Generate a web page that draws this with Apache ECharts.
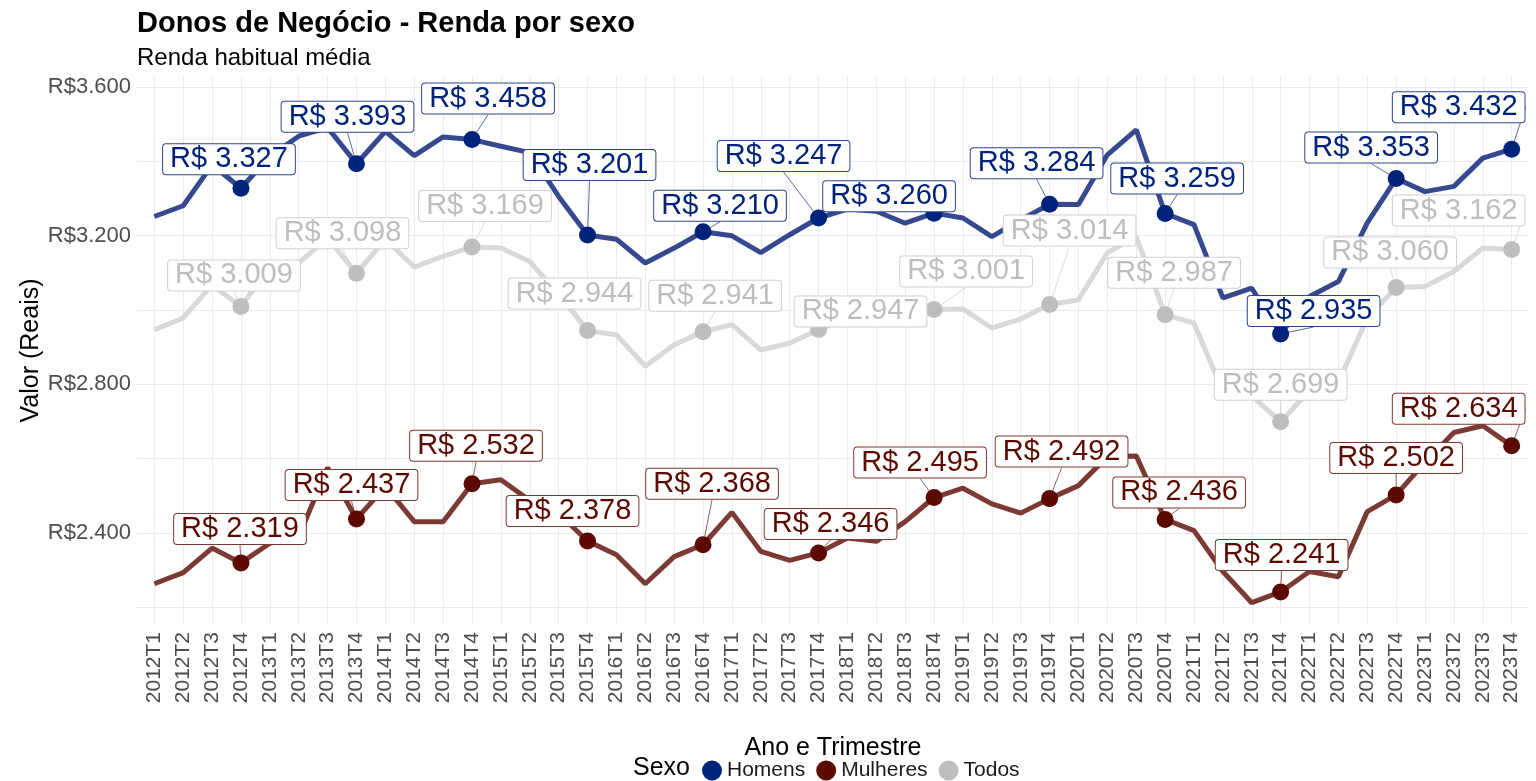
<!DOCTYPE html>
<html>
<head>
<meta charset="utf-8">
<title>Donos de Negócio - Renda por sexo</title>
<script src="https://cdn.jsdelivr.net/npm/echarts@6/dist/echarts.min.js"></script>
<style>
  html, body { margin: 0; padding: 0; background: #fff; }
  #chart { width: 1536px; height: 781px; }
</style>
</head>
<body>
<div id="chart"></div>
<script>
// trimestres 2012T1 .. 2023T4
const trimestres = [];
for (let a = 2012; a <= 2023; a++) {
  for (let t = 1; t <= 4; t++) trimestres.push(a + 'T' + t);
}

const homens = [3251, 3280, 3390, 3327, 3413, 3467, 3490, 3393, 3480, 3415, 3465, 3458,
  3440, 3423, 3305, 3201, 3190, 3126, 3166, 3210, 3199, 3154, 3202, 3247,
  3271, 3265, 3233, 3260, 3247, 3197, 3242, 3284, 3283, 3417, 3484, 3259,
  3229, 3032, 3058, 2935, 3036, 3076, 3234, 3353, 3318, 3332, 3408, 3432];

const mulheres = [2263, 2293, 2359, 2319, 2372, 2390, 2575, 2437, 2525, 2430, 2430, 2532,
  2543, 2487, 2452, 2378, 2341, 2263, 2336, 2368, 2455, 2350, 2326, 2346,
  2386, 2377, 2430, 2495, 2520, 2478, 2453, 2492, 2527, 2605, 2607, 2436,
  2406, 2296, 2212, 2241, 2296, 2282, 2457, 2502, 2590, 2670, 2688, 2634];

const todos = [2946, 2978, 3067, 3009, 3116, 3126, 3193, 3098, 3190, 3115, 3144, 3169,
  3166, 3130, 3042, 2944, 2933, 2848, 2906, 2941, 2960, 2892, 2910, 2947,
  2975, 2985, 2990, 3001, 3002, 2951, 2975, 3014, 3027, 3153, 3197, 2987,
  2964, 2781, 2768, 2699, 2783, 2805, 2978, 3060, 3063, 3103, 3166, 3162];

const yTicks = [2200, 2400, 2600, 2800, 3000, 3200, 3400, 3600];
const yLabels = [2400, 2800, 3200, 3600];

// deslocamento dos rótulos (px) em relação ao ponto, um por T4 (estilo ggrepel)
const shiftHomens = [[-12, -29], [-9, -47], [16, -41], [2, -70], [17, -26], [-35, -62],
  [-45, -17], [-13, -41], [12, -35], [33, -23], [-25, -31], [-53, -42]];
const shiftMulheres = [[-1, -34], [-5, -34], [4, -38], [-15, -30], [9, -61], [12, -29],
  [-14, -35], [12, -47], [14, -27], [1, -37], [0, -37], [-53, -37]];
const shiftTodos = [[-7, -31], [-14, -40], [13, -41], [-13, -37], [12, -36], [42, -18],
  [32, -38], [20, -74], [9, -42], [0, -37], [-6, -35], [-53, -39]];

const FONT = '"Liberation Sans", Arial, sans-serif';

const fmtReal = v => String(v).replace(/\B(?=(\d{3})+(?!\d))/g, '.');

function buildData(values) {
  return values.map((v, i) => {
    if (i % 4 === 3) return { value: [i, v], label: { show: true } };
    return [i, v];
  });
}

function makeSeries(name, values, pointColor, lineColor, textColor, borderColor, shifts) {
  return {
    name: name,
    type: 'line',
    data: buildData(values),
    symbol: 'circle',
    symbolSize: (val, p) => (p.dataIndex % 4 === 3 ? 17 : 0),
    itemStyle: { color: pointColor },
    lineStyle: { color: lineColor, width: 5 },
    label: {
      show: false,
      position: 'inside',
      formatter: p => 'R$ ' + fmtReal(p.value[1]),
      fontFamily: FONT,
      fontSize: 29,
      color: textColor,
      backgroundColor: '#fff',
      borderColor: borderColor,
      borderWidth: 1,
      borderRadius: 3,
      padding: [1, 7, 0, 7]
    },
    labelLine: {
      show: true,
      lineStyle: { color: borderColor, width: 0.8 }
    },
    labelLayout: p => {
      const s = shifts[(p.dataIndex - 3) / 4] || [0, -35];
      return { dx: s[0], dy: s[1] };
    },
    emphasis: { disabled: true }
  };
}

const chart = echarts.init(document.getElementById('chart'));

const option = {
  animation: false,
  backgroundColor: '#fff',
  title: [
    {
      text: 'Donos de Negócio - Renda por sexo',
      left: 137, top: 9, padding: 0,
      textStyle: { fontFamily: FONT, fontSize: 29, fontWeight: 'bold', color: '#000' }
    },
    {
      text: 'Renda habitual média',
      left: 137, top: 46, padding: 0,
      textStyle: { fontFamily: FONT, fontSize: 24, fontWeight: 'normal', color: '#000' }
    },
    {
      text: 'Sexo',
      left: 633, top: 756, padding: 0,
      textStyle: { fontFamily: FONT, fontSize: 25, fontWeight: 'normal', color: '#000' }
    }
  ],
  legend: {
    left: 702,
    top: 760,
    padding: 0,
    icon: 'circle',
    itemWidth: 20,
    itemHeight: 20,
    itemGap: 11,
    textStyle: { fontFamily: FONT, fontSize: 21, color: '#1a1a1a' },
    data: ['Homens', 'Mulheres', 'Todos']
  },
  grid: { left: 137, right: 7, top: 76, bottom: 156 },
  xAxis: {
    type: 'value',
    min: -0.6,
    max: 47.6,
    name: 'Ano e Trimestre',
    nameLocation: 'middle',
    nameGap: 111,
    nameTextStyle: { fontFamily: FONT, fontSize: 25, color: '#000' },
    axisLine: { show: false },
    axisTick: { show: false, customValues: trimestres.map((t, i) => i) },
    axisLabel: {
      customValues: trimestres.map((t, i) => i),
      formatter: v => trimestres[Math.round(v)] || '',
      rotate: 90,
      margin: 7,
      fontFamily: FONT,
      fontSize: 21,
      color: '#4D4D4D'
    },
    splitLine: { show: true, lineStyle: { color: '#EBEBEB', width: 1 } }
  },
  yAxis: {
    type: 'value',
    min: 2152,
    max: 3629,
    name: 'Valor (Reais)',
    nameLocation: 'middle',
    nameRotate: 90,
    nameGap: 93,
    nameMoveOverlap: false,
    nameTextStyle: { fontFamily: FONT, fontSize: 25, color: '#000' },
    axisLine: { show: false },
    axisTick: { show: false, customValues: yTicks },
    axisLabel: {
      customValues: yLabels,
      formatter: v => 'R$' + fmtReal(v),
      margin: 6,
      fontFamily: FONT,
      fontSize: 22,
      color: '#4D4D4D'
    },
    splitLine: { show: true, lineStyle: { color: '#EBEBEB', width: 1 } }
  },
  series: [
    makeSeries('Homens', homens, '#00237A', '#36498F', '#00237A', '#2D4490', shiftHomens),
    makeSeries('Mulheres', mulheres, '#5C0A00', '#7B3A34', '#5C0A00', '#7B3A34', shiftMulheres),
    makeSeries('Todos', todos, '#BEBEBE', '#D9D9D9', '#BEBEBE', '#D0D0D0', shiftTodos)
  ]
};

chart.setOption(option);
</script>
</body>
</html>
